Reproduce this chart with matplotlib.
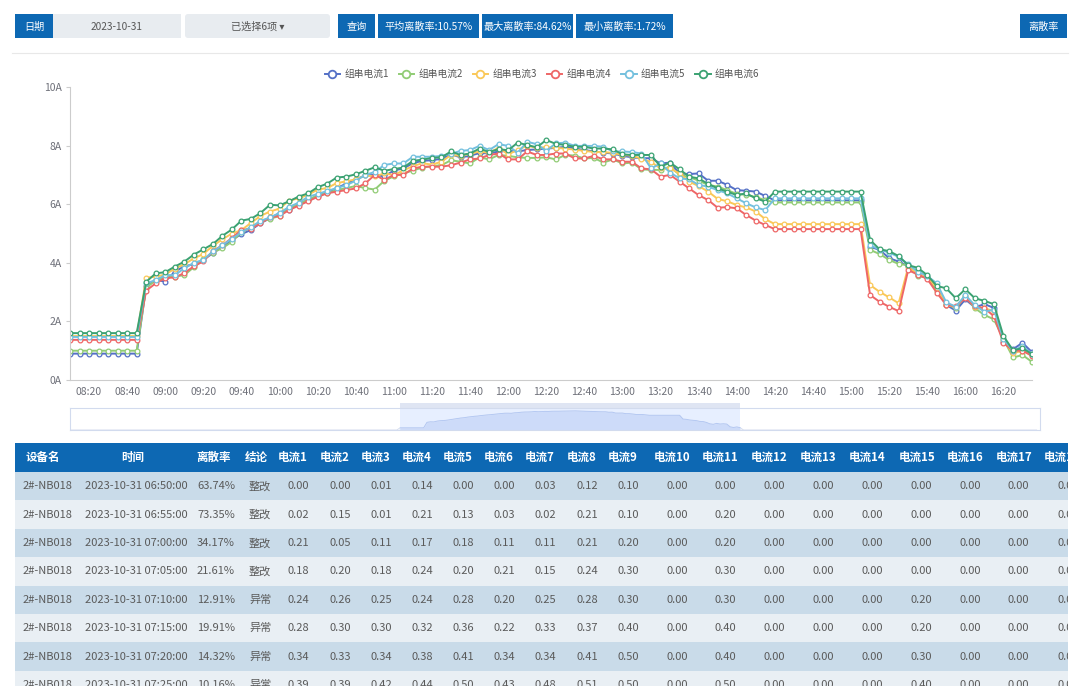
import numpy as np
import matplotlib
matplotlib.use('Agg')
import matplotlib.pyplot as plt
from matplotlib.patches import Rectangle, FancyBboxPatch
from matplotlib.lines import Line2D

plt.rcParams['font.family'] = ['Noto Sans CJK SC', 'DejaVu Sans']

W, H = 1080, 691

## __DATA__________________________
start_min = 8 * 60 + 10   # 08:10, 每5分钟一个点
times = ['%02d:%02d' % ((start_min + 5 * k) // 60, (start_min + 5 * k) % 60) for k in range(102)]

cur1 = [0.90, 0.90, 0.90, 0.90, 0.90, 0.90, 0.90, 0.90,
        3.20, 3.41, 3.36, 3.70, 3.88, 3.95, 4.10, 4.33,
        4.55, 4.78, 4.98, 5.12, 5.35, 5.52, 5.70, 5.80,
        6.00, 6.15, 6.28, 6.40, 6.55, 6.70, 6.85, 6.98,
        7.00, 6.95, 7.15, 7.22, 7.40, 7.48, 7.50, 7.55,
        7.70, 7.60, 7.65, 7.75, 7.73, 7.80, 7.82, 7.80,
        7.85, 7.87, 7.90, 7.92, 7.96, 7.90, 7.85, 7.80,
        7.76, 7.73, 7.65, 7.60, 7.57, 7.57, 7.39, 7.42,
        7.05, 7.03, 7.05, 6.80, 6.80, 6.66, 6.48, 6.46,
        6.43, 6.28, 6.13, 6.13, 6.13, 6.13, 6.13, 6.13,
        6.13, 6.13, 6.13, 6.13,
        4.55, 4.44, 4.16, 4.04, 3.89, 3.58, 3.50, 3.13,
        2.56, 2.37, 2.75, 2.48, 2.59, 2.46, 1.31, 1.05,
        1.27, 0.95]
cur2 = [1.00, 1.00, 1.00, 1.00, 1.00, 1.00, 1.00, 1.00,
        3.15, 3.40, 3.50, 3.53, 3.58, 3.85, 4.12, 4.35,
        4.50, 4.72, 5.05, 5.20, 5.40, 5.50, 5.60, 5.85,
        6.00, 6.15, 6.30, 6.38, 6.48, 6.55, 6.62, 6.55,
        6.50, 6.80, 6.95, 7.05, 7.15, 7.25, 7.30, 7.33,
        7.50, 7.45, 7.39, 7.60, 7.53, 7.68, 7.65, 7.60,
        7.58, 7.58, 7.60, 7.53, 7.68, 7.66, 7.56, 7.58,
        7.42, 7.53, 7.39, 7.42, 7.19, 7.17, 7.17, 7.28,
        7.00, 6.93, 6.80, 6.66, 6.60, 6.48, 6.35, 6.32,
        6.24, 6.14, 6.06, 6.06, 6.06, 6.06, 6.06, 6.06,
        6.06, 6.06, 6.06, 6.06,
        4.44, 4.30, 4.10, 3.96, 3.92, 3.55, 3.50, 3.05,
        2.60, 2.45, 2.85, 2.45, 2.22, 2.07, 1.40, 0.77,
        0.85, 0.62]
cur3 = [1.50, 1.50, 1.50, 1.50, 1.50, 1.50, 1.50, 1.50,
        3.49, 3.53, 3.60, 3.80, 3.95, 4.15, 4.30, 4.58,
        4.80, 5.00, 5.12, 5.36, 5.60, 5.75, 5.85, 6.12,
        6.20, 6.32, 6.50, 6.55, 6.72, 6.78, 6.85, 6.98,
        6.95, 7.05, 7.00, 7.15, 7.30, 7.40, 7.35, 7.45,
        7.68, 7.65, 7.72, 7.80, 7.75, 7.93, 7.70, 7.85,
        8.00, 7.92, 7.95, 7.92, 7.90, 7.86, 7.82, 7.78,
        7.78, 7.75, 7.68, 7.66, 7.55, 7.44, 7.22, 7.22,
        7.05, 6.77, 6.62, 6.43, 6.18, 6.10, 5.97, 5.89,
        5.75, 5.49, 5.32, 5.32, 5.32, 5.32, 5.32, 5.32,
        5.32, 5.32, 5.32, 5.32,
        3.24, 3.01, 2.82, 2.62, 3.85, 3.62, 3.50, 3.15,
        2.55, 2.50, 2.85, 2.50, 2.45, 2.35, 1.35, 0.91,
        1.00, 0.85]
cur4 = [1.37, 1.37, 1.37, 1.37, 1.37, 1.37, 1.37, 1.37,
        3.05, 3.30, 3.48, 3.50, 3.65, 3.88, 4.05, 4.40,
        4.60, 4.85, 5.12, 5.16, 5.35, 5.55, 5.60, 5.80,
        5.95, 6.10, 6.25, 6.37, 6.43, 6.48, 6.54, 6.71,
        7.00, 6.83, 7.00, 7.00, 7.22, 7.28, 7.28, 7.28,
        7.33, 7.42, 7.53, 7.56, 7.68, 7.73, 7.53, 7.53,
        7.80, 7.68, 7.68, 7.73, 7.73, 7.56, 7.56, 7.65,
        7.53, 7.53, 7.45, 7.45, 7.22, 7.19, 6.94, 7.00,
        6.77, 6.54, 6.31, 6.14, 5.88, 5.90, 5.86, 5.63,
        5.44, 5.29, 5.15, 5.15, 5.15, 5.15, 5.15, 5.15,
        5.15, 5.15, 5.15, 5.15,
        2.90, 2.67, 2.50, 2.35, 3.75, 3.60, 3.45, 2.98,
        2.56, 2.52, 2.79, 2.52, 2.45, 2.18, 1.27, 1.00,
        1.00, 0.82]
cur5 = [1.47, 1.47, 1.47, 1.47, 1.47, 1.47, 1.47, 1.47,
        3.30, 3.41, 3.58, 3.58, 3.81, 4.00, 4.10, 4.39,
        4.60, 4.82, 5.05, 5.22, 5.43, 5.55, 5.70, 5.91,
        6.05, 6.25, 6.35, 6.45, 6.55, 6.65, 6.80, 7.00,
        7.10, 7.34, 7.39, 7.39, 7.62, 7.62, 7.62, 7.65,
        7.72, 7.82, 7.85, 7.99, 7.85, 8.05, 7.99, 7.76,
        8.13, 8.05, 7.82, 8.08, 8.10, 7.99, 7.99, 7.99,
        7.96, 7.80, 7.80, 7.78, 7.73, 7.22, 7.39, 7.08,
        6.88, 6.85, 6.66, 6.60, 6.48, 6.37, 6.20, 6.03,
        5.89, 5.80, 6.20, 6.20, 6.20, 6.20, 6.20, 6.20,
        6.20, 6.20, 6.20, 6.20,
        4.60, 4.45, 4.35, 4.20, 3.95, 3.70, 3.55, 3.30,
        2.65, 2.50, 2.90, 2.55, 2.33, 2.40, 1.40, 1.00,
        1.15, 0.90]
cur6 = [1.60, 1.60, 1.60, 1.60, 1.60, 1.60, 1.60, 1.60,
        3.35, 3.64, 3.68, 3.87, 4.04, 4.28, 4.46, 4.64,
        4.92, 5.14, 5.44, 5.50, 5.70, 5.98, 5.96, 6.10,
        6.26, 6.37, 6.58, 6.70, 6.91, 6.94, 7.02, 7.14,
        7.26, 7.14, 7.20, 7.25, 7.48, 7.52, 7.58, 7.60,
        7.80, 7.68, 7.73, 7.90, 7.78, 7.88, 7.84, 8.10,
        8.02, 7.94, 8.19, 8.06, 8.02, 7.96, 7.96, 7.90,
        7.90, 7.87, 7.70, 7.68, 7.68, 7.68, 7.28, 7.42,
        7.19, 6.94, 6.88, 6.69, 6.54, 6.43, 6.31, 6.37,
        6.20, 6.09, 6.43, 6.43, 6.43, 6.43, 6.43, 6.43,
        6.43, 6.43, 6.43, 6.43,
        4.78, 4.46, 4.40, 4.23, 3.92, 3.83, 3.58, 3.21,
        3.13, 2.79, 3.10, 2.79, 2.70, 2.59, 1.50, 1.02,
        1.08, 0.89]
series = [cur1, cur2, cur3, cur4, cur5, cur6]
names = ['组串电流1', '组串电流2', '组串电流3', '组串电流4', '组串电流5', '组串电流6']
colors = ['#5470c6', '#91cc75', '#fac858', '#ee6666', '#73c0de', '#3ba272']

# 表格
tab_header = ['设备名', '时间', '离散率', '结论'] + ['电流%d' % k for k in range(1, 19)]
tab_device = '2#-NB018'
tab_times = ['2023-10-31 06:50:00', '2023-10-31 06:55:00', '2023-10-31 07:00:00',
             '2023-10-31 07:05:00', '2023-10-31 07:10:00', '2023-10-31 07:15:00',
             '2023-10-31 07:20:00', '2023-10-31 07:25:00']
tab_rates = ['63.74%', '73.35%', '34.17%', '21.61%', '12.91%', '19.91%', '14.32%', '10.16%']
tab_verdict = ['整改', '整改', '整改', '整改', '异常', '异常', '异常', '异常']
tab_cur = [
    [0.00, 0.00, 0.01, 0.14, 0.00, 0.00, 0.03, 0.12, 0.10, 0.00, 0.00, 0.00, 0.00, 0.00, 0.00, 0.00, 0.00, 0.00],
    [0.02, 0.15, 0.01, 0.21, 0.13, 0.03, 0.02, 0.21, 0.10, 0.00, 0.20, 0.00, 0.00, 0.00, 0.00, 0.00, 0.00, 0.00],
    [0.21, 0.05, 0.11, 0.17, 0.18, 0.11, 0.11, 0.21, 0.20, 0.00, 0.20, 0.00, 0.00, 0.00, 0.00, 0.00, 0.00, 0.00],
    [0.18, 0.20, 0.18, 0.24, 0.20, 0.21, 0.15, 0.24, 0.30, 0.00, 0.30, 0.00, 0.00, 0.00, 0.00, 0.00, 0.00, 0.00],
    [0.24, 0.26, 0.25, 0.24, 0.28, 0.20, 0.25, 0.28, 0.30, 0.00, 0.30, 0.00, 0.00, 0.00, 0.20, 0.00, 0.00, 0.00],
    [0.28, 0.30, 0.30, 0.32, 0.36, 0.22, 0.33, 0.37, 0.40, 0.00, 0.40, 0.00, 0.00, 0.00, 0.20, 0.00, 0.00, 0.00],
    [0.34, 0.33, 0.34, 0.38, 0.41, 0.34, 0.34, 0.41, 0.50, 0.00, 0.40, 0.00, 0.00, 0.00, 0.30, 0.00, 0.00, 0.00],
    [0.39, 0.39, 0.42, 0.44, 0.50, 0.43, 0.48, 0.51, 0.50, 0.00, 0.50, 0.00, 0.00, 0.00, 0.40, 0.00, 0.00, 0.00],
]

BLUE = '#0d68b3'
GRAYBOX = '#e8ecf0'

fig = plt.figure(figsize=(W / 100, H / 100), dpi=100)

## __TOP BAR__________________________
bg = fig.add_axes([0, 0, 1, 1])
bg.set_xlim(0, W)
bg.set_ylim(H, 0)
bg.axis('off')

def button(x0, x1, text, fc, tc='white', rounded=False):
    if rounded:
        bg.add_patch(FancyBboxPatch((x0, 14), x1 - x0, 24, boxstyle='round,pad=0,rounding_size=3',
                                    fc=fc, ec='none'))
    else:
        bg.add_patch(Rectangle((x0, 14), x1 - x0, 24, fc=fc, ec='none'))
    bg.text((x0 + x1) / 2, 26.5, text, ha='center', va='center', color=tc, fontsize=7.3)

button(53, 181, '2023-10-31', GRAYBOX, '#555555')
button(15, 53, '日期', BLUE)
button(185, 330, '已选择6项 ▾', GRAYBOX, '#555555', rounded=True)
button(338, 375, '查询', BLUE)
button(378, 479, '平均离散率:10.57%', BLUE)
button(482, 573, '最大离散率:84.62%', BLUE)
button(576, 673, '最小离散率:1.72%', BLUE)
button(1020, 1067, '离散率', BLUE)
bg.plot([12, 1068], [53, 53], color='#e8e8e8', lw=0.8)

## __SLIDER__________________________
full_n = 24 * 60 // 5
i0 = start_min // 5
shadow = np.zeros(full_n)
shadow[i0:i0 + len(cur1)] = cur1
sl = fig.add_axes([70 / W, 1 - 430 / H, 970 / W, 22 / H])
sl.set_xlim(0, full_n)
sl.set_ylim(0, max(cur1) * 1.15)
for s in sl.spines.values():
    s.set_color('#d2dbee')
sl.set_xticks([])
sl.set_yticks([])
xs = np.arange(full_n)
sl.fill_between(xs, shadow, color='#d2dbee', alpha=0.3, lw=0)
sl.plot(xs, shadow, color='#d2dbee', lw=0.6)
xw = np.arange(i0, i0 + len(cur1))
sl.fill_between(xw, cur1, color='#8fb0f7', alpha=0.18, lw=0)
sl.plot(xw, cur1, color='#8fb0f7', lw=0.6, alpha=0.5)
sl.axvspan(i0, i0 + len(cur1) - 1, color=(135 / 255, 175 / 255, 1.0), alpha=0.2, lw=0)
wx0 = 70 + i0 / full_n * 970
wx1 = 70 + (i0 + len(cur1) - 1) / full_n * 970
bg.add_patch(Rectangle((wx0, 402.5), wx1 - wx0, 5.5, fc='#d2dbee', ec='none', alpha=0.7))
for hx in (wx0, wx1):
    bg.add_patch(FancyBboxPatch((hx - 2.5, 411), 5, 16, boxstyle='round,pad=0,rounding_size=2',
                                fc='white', ec='#acb8d1', lw=0.8, zorder=5))

## __CHART__________________________
ax = fig.add_axes([70 / W, 1 - 380 / H, (1032 - 70) / W, 293 / H])
ax.patch.set_alpha(0)
x = np.arange(len(times))
for ys, c in zip(series, colors):
    ax.plot(x, ys, '-', color=c, lw=1.4, marker='o', ms=3.4, mfc='white', mec=c, mew=0.9)
ax.set_xlim(0, len(times) - 1)
ax.set_ylim(0, 10)
ax.set_yticks(range(0, 11, 2))
ax.set_yticklabels(['%dA' % v for v in range(0, 11, 2)])
tick_idx = list(range(2, len(times), 4))
ax.set_xticks(tick_idx)
ax.set_xticklabels([times[k] for k in tick_idx])
ax.tick_params(axis='x', length=0, pad=5, labelsize=7.5, labelcolor='#6e7079')
ax.tick_params(axis='y', length=3, color='#cccccc', pad=3, labelsize=7.5, labelcolor='#6e7079')
for side in ('top', 'right'):
    ax.spines[side].set_visible(False)
for side in ('left', 'bottom'):
    ax.spines[side].set_color('#cccccc')

handles = [Line2D([], [], color=c, lw=1.4, marker='o', ms=5.5, mfc='white', mec=c, mew=1.3)
           for c in colors]
fig.legend(handles, names, loc='center', bbox_to_anchor=(542 / W, 1 - 74 / H), ncol=6,
           frameon=False, fontsize=7, handlelength=1.6, handletextpad=0.45,
           columnspacing=1.0, labelcolor='#555555')

## __TABLE__________________________
tab = fig.add_axes([15 / W, 1 - 686 / H, (1068 - 15) / W, (686 - 443) / H])
tab.set_xlim(15, 1068)
tab.set_ylim(686, 443)
tab.axis('off')
head_x = [43, 133, 214, 256, 293, 335, 376, 417, 458, 499, 540, 582, 623, 672, 720, 769, 818, 867, 917, 965, 1014, 1062]
cell_x = [47, 136, 216, 260, 298, 340, 381, 422, 463, 504, 545, 587, 628, 677, 725, 774, 823, 872, 921, 970, 1018, 1068]
tab.add_patch(Rectangle((15, 443), 1053, 29, fc=BLUE, ec='none'))
for t, hx in zip(tab_header, head_x):
    tab.text(hx, 457.5, t, ha='center', va='center', color='white', fontsize=8.3,
             fontweight='bold', clip_on=True)
row_h = 28.4
row_colors = ['#c9dbe9', '#e9eff4']
for r in range(len(tab_times)):
    y0 = 472 + r * row_h
    tab.add_patch(Rectangle((15, y0), 1053, row_h, fc=row_colors[r % 2], ec='none'))
    cells = [tab_device, tab_times[r], tab_rates[r], tab_verdict[r]] + ['%.2f' % v for v in tab_cur[r]]
    for t, cx in zip(cells, cell_x):
        tab.text(cx, y0 + row_h / 2, t, ha='center', va='center', color='#5a5a5a',
                 fontsize=8, clip_on=True)

fig.savefig('out.png', dpi=100)
